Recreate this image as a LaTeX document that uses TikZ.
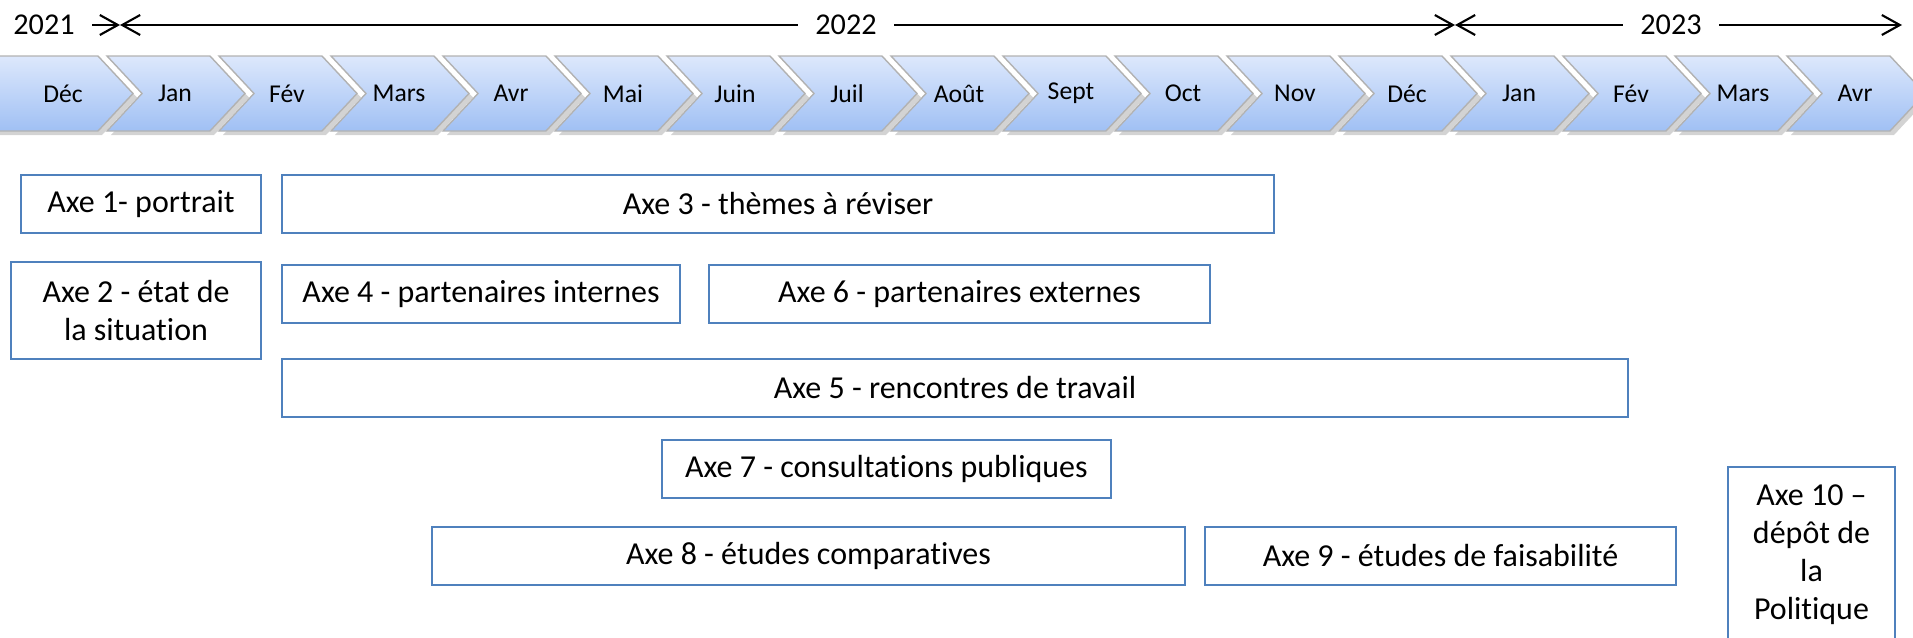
\documentclass[tikz,border=0pt]{standalone}
\usepackage{fontspec}
\setmainfont{Carlito}[Ligatures=NoCommon]
\usetikzlibrary{arrows.meta,shadows}
\definecolor{axeblue}{RGB}{79,129,189}
\definecolor{chevtop}{RGB}{221,232,252}
\definecolor{chevbot}{RGB}{160,192,244}
\tikzset{
  axe/.style={draw=axeblue, line width=0.6pt, inner sep=0pt, align=center, font=\fontsize{9.1}{10.8}\selectfont},
  chevron/.style={draw=gray!60, top color=chevtop, bottom color=chevbot, drop shadow={opacity=0.35, shadow xshift=0.4mm, shadow yshift=-0.4mm}},
  month/.style={font=\fontsize{7.3}{8.8}\selectfont},
  year/.style={font=\fontsize{8.6}{10}\selectfont, inner xsep=0.17cm},
  yr/.style={line width=0.6pt, -{Straight Barb[length=1.8mm,width=2mm]}}
}
\begin{document}
\begin{tikzpicture}
    \useasboundingbox (0,0) rectangle (19.13,-6.38);
    \clip (0,0) rectangle (19.13,-6.38);

    \node[year] (y21) at (0.44,-0.25) {2021};
    \node[year] (y22) at (8.46,-0.25) {2022};
    \node[year] (y23) at (16.71,-0.25) {2023};
    \coordinate (c1) at (1.20,-0.25);
    \coordinate (c2) at (14.55,-0.25);
    \coordinate (c3) at (19.02,-0.25);
    \draw[yr] (y21) -- (c1);
    \draw[yr] (y22) -- (c1);
    \draw[yr] (y22) -- (c2);
    \draw[yr] (y23) -- (c2);
    \draw[yr] (y23) -- (c3);

    \foreach \m [count=\i from 0] in {Déc,Jan,Fév,Mars,Avr,Mai,Juin,Juil,Août,Sept,Oct,Nov,Déc,Jan,Fév,Mars,Avr} {
        \pgfmathsetmacro\xa{-0.05+1.12*\i}
        \ifnum\i=0
            \draw[chevron] (\xa,-0.56) -- ++(1.03,0) -- ++(0.35,-0.375) -- ++(-0.35,-0.375) -- ++(-1.03,0) -- cycle;
        \else
            \draw[chevron] (\xa,-0.56) -- ++(1.03,0) -- ++(0.35,-0.375) -- ++(-0.35,-0.375) -- ++(-1.03,0) -- ++(0.35,0.375) -- cycle;
        \fi
        \node[month] (m\i) at (\xa+0.68,-0.935) {\m};
    }

    \node[axe, minimum width=2.40cm, minimum height=0.58cm] (ax1) at (1.41,-2.04) {Axe 1- portrait};
    \node[axe, minimum width=2.50cm, minimum height=0.97cm] (ax2) at (1.36,-3.105) {Axe 2 - état de\\la situation};
    \node[axe, minimum width=9.92cm, minimum height=0.58cm] (ax3) at (7.78,-2.04) {Axe 3 - thèmes à réviser};
    \node[axe, minimum width=3.98cm, minimum height=0.58cm] (ax4) at (4.81,-2.94) {Axe 4 - partenaires internes};
    \node[axe, minimum width=13.46cm, minimum height=0.58cm] (ax5) at (9.55,-3.88) {Axe 5 - rencontres de travail};
    \node[axe, minimum width=5.01cm, minimum height=0.58cm] (ax6) at (9.595,-2.94) {Axe 6 - partenaires externes};
    \node[axe, minimum width=4.49cm, minimum height=0.58cm] (ax7) at (8.865,-4.69) {Axe 7 - consultations publiques};
    \node[axe, minimum width=7.53cm, minimum height=0.58cm] (ax8) at (8.085,-5.56) {Axe 8 - études comparatives};
    \node[axe, minimum width=4.71cm, minimum height=0.58cm] (ax9) at (14.405,-5.56) {Axe 9 - études de faisabilité};
    \node[axe, anchor=north, minimum width=1.67cm, inner ysep=5pt] (ax10) at (18.115,-4.66) {Axe 10 –\\dépôt de\\la\\Politique};
\end{tikzpicture}
\end{document}
